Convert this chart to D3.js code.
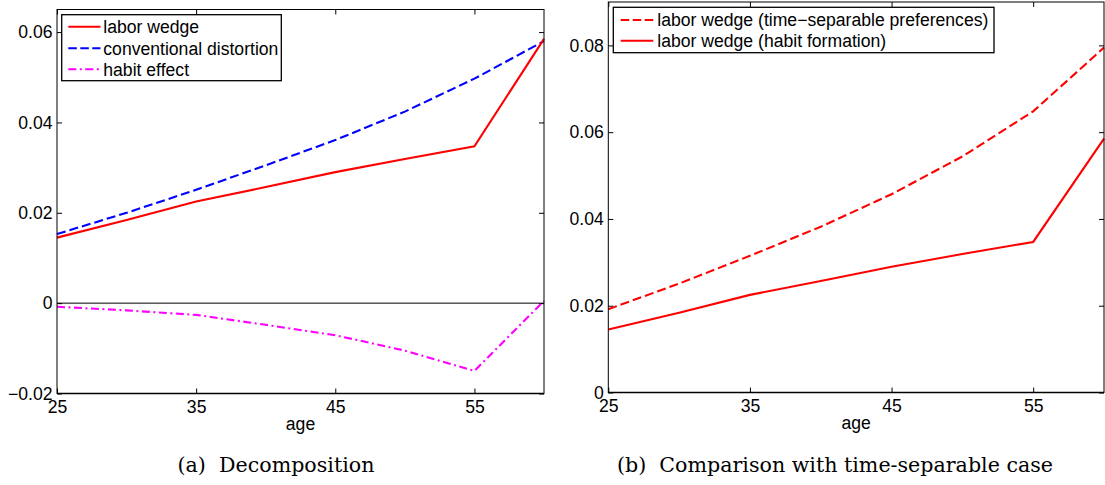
<!DOCTYPE html>
<html>
<head>
<meta charset="utf-8">
<script src="https://cdn.jsdelivr.net/npm/d3@7"></script>
<style>
  html, body { margin: 0; padding: 0; background: #fff; }
  svg { display: block; }
  text { font-family: "Liberation Sans", Arial, Helvetica, sans-serif; fill: #000; }
  .caption { font-family: "DejaVu Serif", "Liberation Serif", serif; }
</style>
</head>
<body>
<svg id="chart" width="1105" height="485"></svg>
<script>
// ---------- data ----------
const ages = [25, 30, 35, 40, 45, 50, 55, 60];
const laborWedge = [0.0145, 0.0184, 0.0225, 0.0257, 0.0290, 0.0319, 0.0347, 0.0585];
const conventionalDistortion = [0.0153, 0.0200, 0.0251, 0.0305, 0.0361, 0.0424, 0.0497, 0.0580];
const habitEffect = [-0.0008, -0.0016, -0.0026, -0.0048, -0.0071, -0.0105, -0.0150, 0.0005];
const laborWedgeTimeSeparable = [0.0192, 0.0251, 0.0315, 0.0382, 0.0457, 0.0544, 0.0648, 0.0795];

const xTicks = [25, 35, 45, 55];
const yTicksA = [-0.02, 0, 0.02, 0.04, 0.06];
const yTicksB = [0, 0.02, 0.04, 0.06, 0.08];

const legendA = ["labor wedge", "conventional distortion", "habit effect"];
const legendB = ["labor wedge (time\u2212separable preferences)", "labor wedge (habit formation)"];
const captionA = "(a)  Decomposition";
const captionB = "(b)  Comparison with time-separable case";
const xLabel = "age";

// ---------- helpers ----------
const svg = d3.select("#chart");
svg.append("rect").attr("width", 1105).attr("height", 485).attr("fill", "#fff");

const FS = 17.6;
const DASH = "9,4";
const DASHDOT = "8,3.5,2,3.5";
const fmtY = d => d === 0 ? "0" : d3.format(".2f")(d);

function panel(opts) {
  const { left, right, top, bottom, yDomain, yTicks } = opts;
  const x = d3.scaleLinear().domain([25, 60]).range([left, right]);
  const y = d3.scaleLinear().domain(yDomain).range([bottom, top]);
  const g = svg.append("g");

  const gb = g.append("g").attr("transform", `translate(0,${bottom})`)
    .call(d3.axisBottom(x).tickValues(xTicks).tickSizeInner(-5).tickSizeOuter(0).tickPadding(7.5).tickFormat(d3.format("d")));
  const gt = g.append("g").attr("transform", `translate(0,${top})`)
    .call(d3.axisTop(x).tickValues(xTicks).tickSizeInner(-5).tickSizeOuter(0).tickFormat(""));
  const gl = g.append("g").attr("transform", `translate(${left},0)`)
    .call(d3.axisLeft(y).tickValues(yTicks).tickSizeInner(-5).tickSizeOuter(0).tickPadding(4.5).tickFormat(fmtY));
  const gr = g.append("g").attr("transform", `translate(${right},0)`)
    .call(d3.axisRight(y).tickValues(yTicks).tickSizeInner(-5).tickSizeOuter(0).tickFormat(""));

  [gb, gt, gl, gr].forEach(a => {
    a.select(".domain").remove();
    a.selectAll(".tick line").attr("stroke", "#000").attr("stroke-width", 1);
    a.selectAll(".tick text").attr("font-size", FS).attr("fill", "#000")
      .attr("font-family", '"Liberation Sans", Arial, sans-serif');
  });

  g.append("text").attr("x", (left + right) / 2).attr("y", bottom + 36.5)
    .attr("text-anchor", "middle").attr("font-size", FS).text(xLabel);

  return { g, x, y };
}

function drawLine(p, values, color, dash) {
  const line = d3.line().x((d, i) => p.x(ages[i])).y(d => p.y(d));
  p.g.append("path").datum(values)
    .attr("d", line)
    .attr("fill", "none")
    .attr("stroke", color)
    .attr("stroke-width", 2.1)
    .attr("stroke-dasharray", dash || null)
    .attr("stroke-linejoin", "miter");
}

function box(p, left, right, top, bottom) {
  p.g.append("rect").attr("x", left).attr("y", top)
    .attr("width", right - left).attr("height", bottom - top)
    .attr("fill", "none").attr("stroke", "#000").attr("stroke-width", 1);
  p.g.append("line").attr("x1", left).attr("x2", right).attr("y1", bottom).attr("y2", bottom)
    .attr("stroke", "#000").attr("stroke-width", 1.6);
}

function legend(p, bx, by, bw, bh, items, rowY, sx0, sx1, tx) {
  const lg = p.g.append("g");
  lg.append("rect").attr("x", bx).attr("y", by).attr("width", bw).attr("height", bh)
    .attr("fill", "#fff").attr("stroke", "#000").attr("stroke-width", 1.3);
  items.forEach((it, i) => {
    const yy = rowY[i];
    lg.append("line").attr("x1", sx0).attr("x2", sx1).attr("y1", yy).attr("y2", yy)
      .attr("stroke", it.color).attr("stroke-width", 2.1)
      .attr("stroke-dasharray", it.dash || null);
    lg.append("text").attr("x", tx).attr("y", yy + 6.4).attr("font-size", FS).text(it.label);
  });
}

// ---------- panel (a) ----------
const A = { left: 57, right: 544, top: 9.5, bottom: 393.5 };
const pA = panel({ ...A, yDomain: [-0.02, 0.065], yTicks: yTicksA });
pA.g.append("line").attr("x1", A.left).attr("x2", A.right)
  .attr("y1", pA.y(0)).attr("y2", pA.y(0)).attr("stroke", "#000").attr("stroke-width", 1);
drawLine(pA, conventionalDistortion, "#0000ff", DASH);
drawLine(pA, habitEffect, "#ff00ff", DASHDOT);
drawLine(pA, laborWedge, "#ff0000", null);
box(pA, A.left, A.right, A.top, A.bottom);
legend(pA, 61.7, 14.7, 219.6, 66, [
  { label: legendA[0], color: "#ff0000", dash: null },
  { label: legendA[1], color: "#0000ff", dash: "8.5,3.5" },
  { label: legendA[2], color: "#ff00ff", dash: DASHDOT }
], [26.7, 48.3, 69.3], 68.3, 100.5, 103.3);

// ---------- panel (b) ----------
const B = { left: 608.3, right: 1104, top: 2, bottom: 392.5 };
const pB = panel({ ...B, yDomain: [0, 0.09], yTicks: yTicksB });
drawLine(pB, laborWedgeTimeSeparable, "#ff0000", DASH);
drawLine(pB, laborWedge, "#ff0000", null);
box(pB, B.left, B.right, B.top, B.bottom);
legend(pB, 613.3, 7.3, 380.7, 45.4, [
  { label: legendB[0], color: "#ff0000", dash: "8.5,3.5" },
  { label: legendB[1], color: "#ff0000", dash: null }
], [20, 40.7], 620.7, 653.3, 657.3);

// ---------- captions ----------
svg.append("text").attr("class", "caption").attr("x", 276).attr("y", 472)
  .attr("text-anchor", "middle").attr("font-size", 20.6).attr("font-family", '"DejaVu Serif", serif')
  .attr("xml:space", "preserve").style("white-space", "pre").text(captionA);
svg.append("text").attr("class", "caption").attr("x", 835).attr("y", 472)
  .attr("text-anchor", "middle").attr("font-size", 20.6).attr("font-family", '"DejaVu Serif", serif')
  .attr("xml:space", "preserve").style("white-space", "pre").text(captionB);
</script>
</body>
</html>
